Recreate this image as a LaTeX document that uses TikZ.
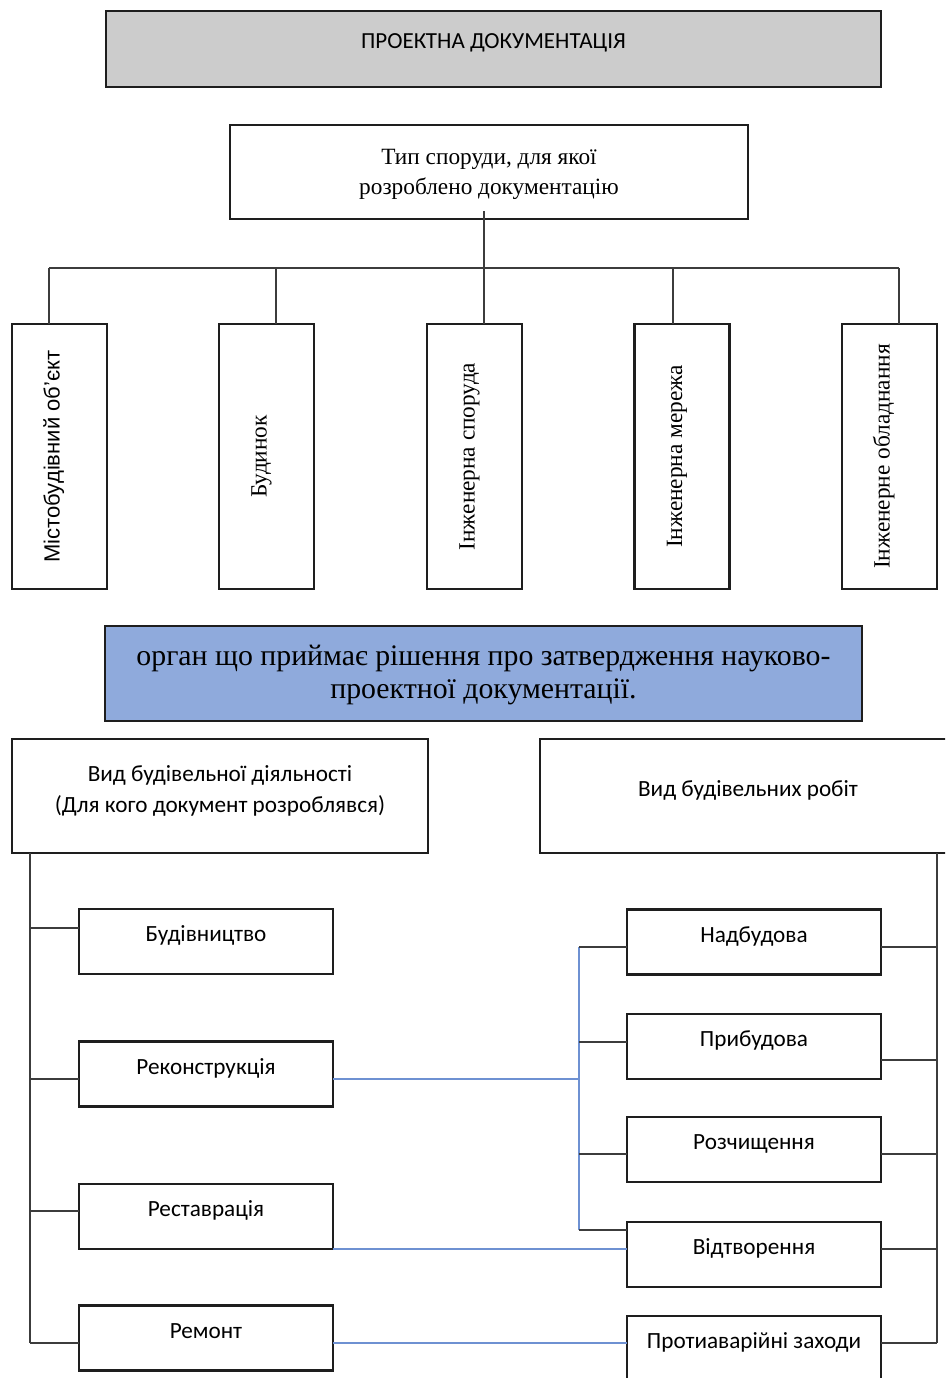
\documentclass[tikz,border=0pt]{standalone}
\usepackage{fontspec}
\setmainfont{Liberation Serif}
\newfontfamily\calfont{Carlito}
\newfontfamily\arialfont{Liberation Sans}
\definecolor{boxgray}{RGB}{204,204,204}
\definecolor{boxblue}{RGB}{143,170,220}
\definecolor{linkblue}{RGB}{110,145,210}
\definecolor{edge}{RGB}{30,30,30}
\definecolor{conn}{RGB}{60,60,60}
\tikzset{
  box/.style={draw=edge, line width=2.2pt, inner sep=0pt, outer sep=0pt},
  mid/.style={text height=7pt, text depth=7pt},
  cal/.style={font=\calfont\fontsize{23.2}{31}\selectfont},
  tms/.style={font=\fontsize{23.3}{30}\selectfont},
  vbox/.style={box, rotate=90, minimum width=265pt, minimum height=95pt, mid},
  child/.style={box, cal, mid, minimum width=254pt, minimum height=65pt},
  cline/.style={draw=conn, line width=1.3pt},
  bline/.style={draw=linkblue, line width=1.4pt}
}
\begin{document}
\begin{tikzpicture}[x=1pt,y=-1pt]
\useasboundingbox (0,0) rectangle (945,1378);
\clip (0,0) rectangle (945,1378);
% top
\node[box, fill=boxgray, mid, minimum width=775pt, minimum height=76pt,
  font=\calfont\fontsize{23}{28}\selectfont] (top) at (493.5,49) {ПРОЕКТНА ДОКУМЕНТАЦІЯ};
\node[box, tms, align=center, minimum width=518pt, minimum height=94pt] (type) at (489,172)
  {\rule{0pt}{20pt}Тип споруди, для якої\\розроблено документацію};
% vertical boxes
\node[vbox, font=\arialfont\fontsize{22}{26}\selectfont] (v1) at (59.5,456.5) {Містобудівний об’єкт};
\node[vbox, tms] (v2) at (266.5,456.5) {Будинок};
\node[vbox, tms] (v3) at (474.5,456.5) {Інженерна споруда};
\node[vbox, tms] (v4) at (682,456.5) {Інженерна мережа};
\node[vbox, tms] (v5) at (889.5,456.5) {Інженерне обладнання};
% bus
\coordinate (b0) at (484,211);
\coordinate (bus) at (484,268);
\coordinate (t1) at (49,268);
\coordinate (t2) at (276,268);
\coordinate (t3) at (484,268);
\coordinate (t4) at (673,268);
\coordinate (t5) at (899,268);
\draw[cline] (b0) -- (bus);
\draw[cline] (t1) -- (t5);
\draw[cline] (t1) -- (t1 |- v1.east);
\draw[cline] (t2) -- (t2 |- v2.east);
\draw[cline] (t3) -- (t3 |- v3.east);
\draw[cline] (t4) -- (t4 |- v4.east);
\draw[cline] (t5) -- (t5 |- v5.east);
% blue box
\node[box, fill=boxblue, align=center, minimum width=757pt, minimum height=95pt,
  font=\fontsize{29.8}{33}\selectfont] (organ) at (483.5,673.5)
  {\rule{0pt}{24pt}орган що приймає рішення про затвердження науково-\\проектної документації.};
% headers
\node[box, cal, align=center, minimum width=416pt, minimum height=114pt] (lh) at (220,796)
  {Вид будівельної діяльності\\(Для кого документ розроблявся)\rule[-14pt]{0pt}{14pt}};
\node[box, cal, mid, minimum width=416pt, minimum height=114pt] (rh) at (748,796)
  {Вид будівельних робіт};
% left children
\node[child] (c1) at (206,941.5) {Будівництво};
\node[child] (c2) at (206,1074) {Реконструкція};
\node[child] (c3) at (206,1216.5) {Реставрація};
\node[child] (c4) at (206,1338) {Ремонт};
% right children
\node[child] (r1) at (754,942) {Надбудова};
\node[child] (r2) at (754,1046.5) {Прибудова};
\node[child] (r3) at (754,1149.5) {Розчищення};
\node[child] (r4) at (754,1254.5) {Відтворення};
\node[child] (r5) at (754,1348.5) {Протиаварійні заходи};
% left tree
\coordinate (l0) at (30,853);
\coordinate (l1) at (30,928);
\coordinate (l2) at (30,1079);
\coordinate (l3) at (30,1211);
\coordinate (l4) at (30,1343);
\draw[cline] (l0) -- (l4);
\draw[cline] (l1) -- (l1 -| c1.west);
\draw[cline] (l2) -- (l2 -| c2.west);
\draw[cline] (l3) -- (l3 -| c3.west);
\draw[cline] (l4) -- (l4 -| c4.west);
% right tree
\coordinate (q0) at (937,853);
\coordinate (q1) at (937,947);
\coordinate (q2) at (937,1060);
\coordinate (q3) at (937,1154);
\coordinate (q4) at (937,1249);
\coordinate (q5) at (937,1343);
\draw[cline] (q0) -- (q5);
\draw[cline] (q1) -- (q1 -| r1.east);
\draw[cline] (q2) -- (q2 -| r2.east);
\draw[cline] (q3) -- (q3 -| r3.east);
\draw[cline] (q4) -- (q4 -| r4.east);
\draw[cline] (q5) -- (q5 -| r5.east);
% middle blue tree
\coordinate (m1) at (579,947);
\coordinate (m2) at (579,1042);
\coordinate (m3) at (579,1154);
\coordinate (m4) at (579,1230);
\coordinate (mc) at (579,1079);
\draw[bline] (m1) -- (m4);
\draw[cline] (m1) -- (m1 -| r1.west);
\draw[cline] (m2) -- (m2 -| r2.west);
\draw[cline] (m3) -- (m3 -| r3.west);
\draw[cline] (m4) -- (m4 -| r4.west);
\draw[bline] (mc -| c2.east) -- (mc);
\coordinate (s3) at (333,1249);
\coordinate (s4) at (333,1343);
\draw[bline] (s3) -- (s3 -| r4.west);
\draw[bline] (s4) -- (s4 -| r5.west);
\end{tikzpicture}
\end{document}
